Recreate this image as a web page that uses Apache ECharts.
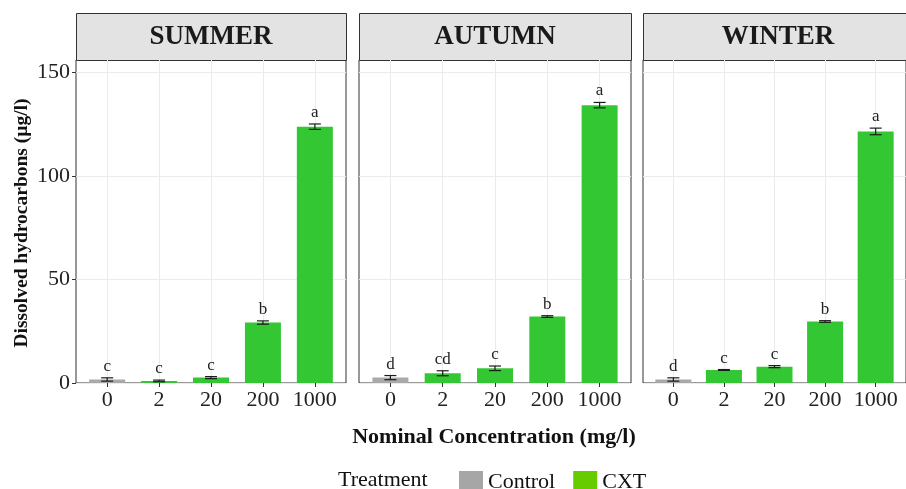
<!DOCTYPE html>
<html>
<head>
    <meta charset="utf-8">
    <title>Dissolved hydrocarbons</title>
    <script src="https://cdn.jsdelivr.net/npm/echarts@6/dist/echarts.min.js"></script>
    <style>
        html, body { margin: 0; padding: 0; background: #fff; }
        #chart { width: 906px; height: 489px; }
    </style>
</head>
<body>
<div id="chart"></div>

<script type="text/javascript">
    // concentration classes (x axis)
    var concentrations = ['0', '2', '20', '200', '1000'];
    var seasons = ['SUMMER', 'AUTUMN', 'WINTER'];

    // means and standard errors (µg/l)
    var summerMean = [1.7, 1.0, 2.6, 29.2, 123.8];
    var summerSE = [0.8, 0.4, 0.5, 0.8, 1.3];
    var summerLetters = ['c', 'c', 'c', 'b', 'a'];

    var autumnMean = [2.6, 4.7, 7.1, 32.1, 134.2];
    var autumnSE = [1.0, 1.2, 1.1, 0.4, 1.3];
    var autumnLetters = ['d', 'cd', 'c', 'b', 'a'];

    var winterMean = [1.7, 6.3, 7.9, 29.7, 121.5];
    var winterSE = [0.8, 0.2, 0.5, 0.4, 1.6];
    var winterLetters = ['d', 'c', 'c', 'b', 'a'];

    var yTicks = [0, 50, 100, 150];

    var means = [summerMean, autumnMean, winterMean];
    var ses = [summerSE, autumnSE, winterSE];
    var letters = [summerLetters, autumnLetters, winterLetters];

    var serif = '"Liberation Serif", "Times New Roman", serif';
    var panelLeft = [76, 359, 643];
    var panelWidth = [270, 272, 270];

    var grids = [], xAxes = [], yAxes = [], series = [], graphics = [];

    for (var k = 0; k < 3; k++) {
        grids.push({
            left: panelLeft[k], top: 60, width: panelWidth[k], height: 323,
            show: true, backgroundColor: '#fff', borderColor: '#333', borderWidth: 1
        });
        xAxes.push({
            gridIndex: k, type: 'value', min: -0.6, max: 4.6,
            axisLine: {show: false, onZero: false},
            splitLine: {show: false},
            axisTick: {show: true, customValues: [0, 1, 2, 3, 4], length: 4, lineStyle: {color: '#333'}},
            axisLabel: {
                customValues: [0, 1, 2, 3, 4], margin: 6,
                fontFamily: serif, fontSize: 22, color: '#222',
                formatter: function (v) { return concentrations[Math.round(v)]; }
            }
        });
        yAxes.push({
            gridIndex: k, type: 'value', min: 0, max: 156, interval: 25,
            axisLine: {show: false, onZero: false},
            axisTick: {show: k === 0, length: 4, lineStyle: {color: '#333'},
                customValues: yTicks},
            splitLine: {show: true, lineStyle: {color: '#ebebeb', width: 1}},
            axisLabel: {
                show: k === 0, customValues: yTicks, margin: 6,
                fontFamily: serif, fontSize: 22, color: '#222'
            }
        });

        // vertical grid lines at the categories
        series.push({
            type: 'line', xAxisIndex: k, yAxisIndex: k, data: [], silent: true, z: 0,
            markLine: {
                silent: true, symbol: 'none', label: {show: false}, z: 0,
                lineStyle: {color: '#ebebeb', width: 1, type: 'solid'},
                data: concentrations.map(function (c, i) { return {xAxis: i}; })
            }
        });

        var ctrl = [], cxt = [], err = [];
        for (var i = 0; i < concentrations.length; i++) {
            if (i === 0) ctrl.push([i, means[k][i]]);
            else cxt.push([i, means[k][i]]);
            err.push([i, means[k][i], ses[k][i]]);
        }

        series.push({
            name: 'Control', type: 'bar', xAxisIndex: k, yAxisIndex: k,
            barWidth: 36, barGap: '-100%', z: 2,
            itemStyle: {color: '#a9a9a9'}, data: ctrl
        });
        series.push({
            name: 'CXT', type: 'bar', xAxisIndex: k, yAxisIndex: k,
            barWidth: 36, barGap: '-100%', z: 2,
            itemStyle: {color: '#33c833'}, data: cxt
        });

        // error bars + letters
        (function (panel) {
            series.push({
                type: 'custom', xAxisIndex: panel, yAxisIndex: panel, z: 3, silent: true,
                data: err,
                renderItem: function (params, api) {
                    var x = api.value(0), m = api.value(1), s = api.value(2);
                    var lo = api.coord([x, m - s]);
                    var hi = api.coord([x, m + s]);
                    var hw = 6;
                    var st = {stroke: '#1a1a1a', lineWidth: 1.2};
                    return {
                        type: 'group',
                        children: [
                            {type: 'line', shape: {x1: lo[0], y1: lo[1], x2: hi[0], y2: hi[1]}, style: st},
                            {type: 'line', shape: {x1: lo[0] - hw, y1: lo[1], x2: lo[0] + hw, y2: lo[1]}, style: st},
                            {type: 'line', shape: {x1: hi[0] - hw, y1: hi[1], x2: hi[0] + hw, y2: hi[1]}, style: st},
                            {
                                type: 'text',
                                style: {
                                    text: letters[panel][params.dataIndex],
                                    x: hi[0], y: hi[1] - 3,
                                    align: 'center', verticalAlign: 'bottom',
                                    font: '17px ' + serif, fill: '#222'
                                }
                            }
                        ]
                    };
                }
            });
        })(k);

        // facet strip
        graphics.push({
            type: 'rect', left: panelLeft[k], top: 13,
            shape: {width: panelWidth[k], height: 47},
            style: {fill: '#e3e3e3', stroke: '#333', lineWidth: 1}
        });
        graphics.push({
            type: 'text', x: panelLeft[k] + panelWidth[k] / 2, y: 37,
            style: {
                text: seasons[k], align: 'center', verticalAlign: 'middle',
                font: 'bold 27px ' + serif, fill: '#1a1a1a'
            }
        });
    }

    // axis titles and legend title
    graphics.push({
        type: 'text', x: 22, y: 223, rotation: Math.PI / 2,
        style: {
            text: 'Dissolved hydrocarbons (µg/l)', align: 'center', verticalAlign: 'middle',
            font: 'bold 19.5px ' + serif, fill: '#111'
        }
    });
    graphics.push({
        type: 'text', x: 494, y: 437,
        style: {
            text: 'Nominal Concentration (mg/l)', align: 'center', verticalAlign: 'middle',
            font: 'bold 22px ' + serif, fill: '#111'
        }
    });
    graphics.push({
        type: 'text', x: 338, y: 480,
        style: {
            text: 'Treatment', align: 'left', verticalAlign: 'middle',
            font: '22px ' + serif, fill: '#111'
        }
    });

    var myChart = echarts.init(document.getElementById('chart'));
    myChart.setOption({
        animation: false,
        backgroundColor: '#fff',
        grid: grids,
        xAxis: xAxes,
        yAxis: yAxes,
        legend: {
            left: 454, top: 466,
            itemWidth: 24, itemHeight: 22, itemGap: 18,
            icon: 'rect',
            textStyle: {fontFamily: serif, fontSize: 22, color: '#111'},
            data: [
                {name: 'Control', itemStyle: {color: '#a6a6a6'}},
                {name: 'CXT', itemStyle: {color: '#66cc00'}}
            ]
        },
        graphic: graphics,
        series: series
    });
</script>
</body>
</html>
